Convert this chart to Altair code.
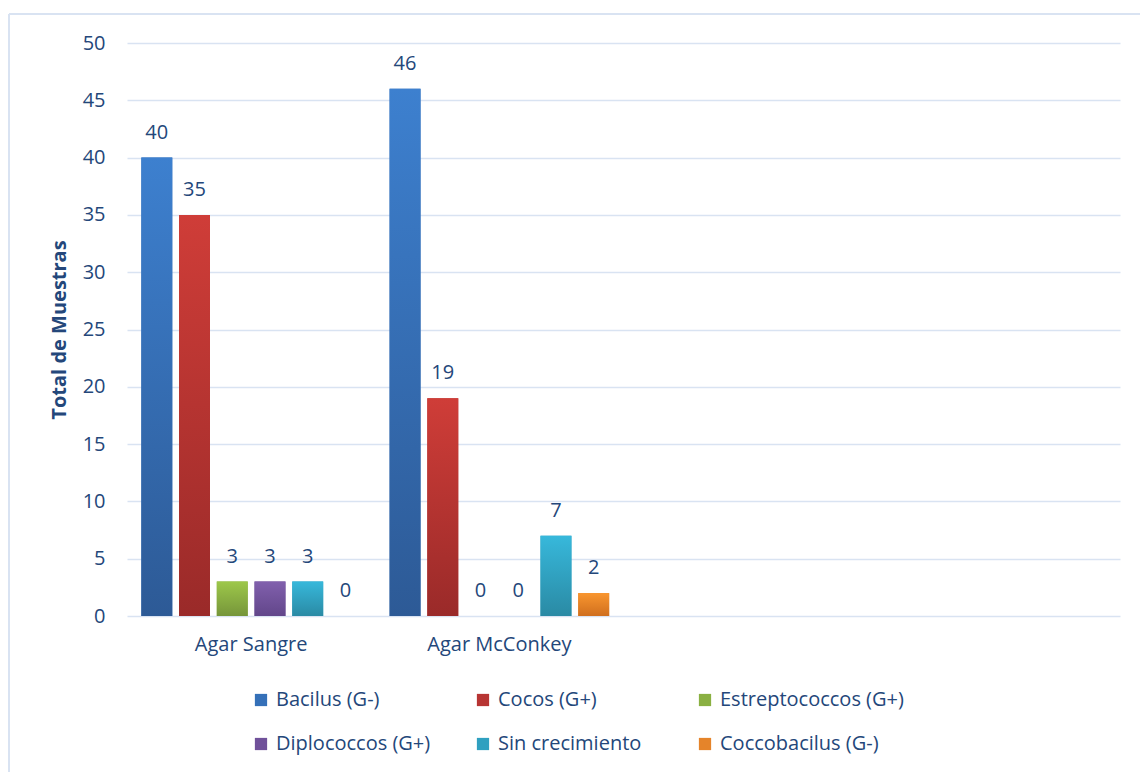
import altair as alt
import pandas as pd

# Counts of bacterial morphology per culture medium
medios = ["Agar Sangre", "Agar McConkey", " ", "  "]
series = ["Bacilus (G-)", "Cocos (G+)", "Estreptococcos (G+)",
          "Diplococcos (G+)", "Sin crecimiento", "Coccobacilus (G-)"]
agar_sangre = [40, 35, 3, 3, 3, 0]
agar_mcconkey = [46, 19, 0, 0, 7, 2]

# top / bottom shades of each series' bar gradient
tonos_sup = ["#3D80CF", "#CF3D38", "#9DC84A", "#8160AD", "#37B8DB", "#F9962F"]
tonos_inf = ["#2D5A96", "#9A2A29", "#76953A", "#62468A", "#2A8AA4", "#D06F1E"]
tonos_leyenda = ["#3570B8", "#B73533", "#8AB042", "#70519A", "#2FA0C0", "#E5842A"]

rows = []
for s, a, m in zip(series, agar_sangre, agar_mcconkey):
    rows.append({"Medio": medios[0], "Serie": s, "Total": a})
    rows.append({"Medio": medios[1], "Serie": s, "Total": m})
df = pd.DataFrame(rows)

FONT = "Open Sans"
FS = 20
TXT = "#24477A"
GRID = "#D9E3F2"

x_enc = alt.X("Medio:N", scale=alt.Scale(domain=medios, paddingInner=0, paddingOuter=0),
              axis=alt.Axis(title=None, domain=False, ticks=False, labelAngle=0,
                            labelPadding=18, labelFontSize=FS, labelColor=TXT,
                            labelFont=FONT))
xo_enc = alt.XOffset("Serie:N", scale=alt.Scale(domain=series, paddingInner=0.18,
                                                paddingOuter=0.38))
y_enc = alt.Y("Total:Q", scale=alt.Scale(domain=[0, 50]),
              axis=alt.Axis(title="Total de Muestras", values=list(range(0, 51, 5)),
                            domain=False, ticks=False, grid=True, gridColor=GRID,
                            gridWidth=1.6, labelPadding=22, labelFontSize=FS,
                            labelColor=TXT, labelFont=FONT, titleFont=FONT,
                            titleFontSize=20, titleFontWeight="bold",
                            titleColor=TXT, titleX=-58))

base = alt.Chart(df)

# solid bars carrying the legend
leyenda = base.mark_bar().encode(
    x=x_enc, xOffset=xo_enc, y=y_enc,
    color=alt.Color("Serie:N", scale=alt.Scale(domain=series, range=tonos_leyenda),
                    legend=alt.Legend(title=None, orient="none", legendX=124,
                                      legendY=647, columns=3, direction="horizontal",
                                      gridAlign="all", columnPadding=13, rowPadding=24,
                                      symbolType="square", symbolSize=150,
                                      symbolStrokeWidth=0, labelFontSize=FS,
                                      labelColor=TXT, labelFont=FONT,
                                      labelOffset=5, labelLimit=300)),
)

# gradient bars drawn over them, one layer per series
capas = [leyenda]
for s, top, bot in zip(series, tonos_sup, tonos_inf):
    grad = alt.Gradient(gradient="linear", x1=0, y1=0, x2=0, y2=1,
                        stops=[alt.GradientStop(offset=0, color=top),
                               alt.GradientStop(offset=1, color=bot)])
    capas.append(
        base.mark_bar(color=grad).encode(x=x_enc, xOffset=xo_enc, y=y_enc)
        .transform_filter(alt.datum.Serie == s)
    )

etiquetas = base.mark_text(dy=-25, fontSize=FS, color=TXT, font=FONT).encode(
    x=x_enc, xOffset=xo_enc, y=y_enc, text="Total:Q")
capas.append(etiquetas)

# light frame around the chart
marco_izq = alt.Chart(pd.DataFrame({"k": [0]})).mark_rule(
    color=GRID, strokeWidth=2).encode(x=alt.value(-118), y=alt.value(-29), y2=alt.value(800))
marco_sup = alt.Chart(pd.DataFrame({"k": [0]})).mark_rule(
    color=GRID, strokeWidth=2).encode(y=alt.value(-29), x=alt.value(-118), x2=alt.value(1100))

chart = alt.layer(marco_izq, marco_sup, *capas).properties(
    width=993, height=573,
    background="white",
    autosize=alt.AutoSizeParams(type="none"),
    padding={"left": 127, "top": 43, "right": 20, "bottom": 156},
).configure_view(stroke=None)

chart.save("out.html", embed_options={"renderer": "svg", "actions": False})
